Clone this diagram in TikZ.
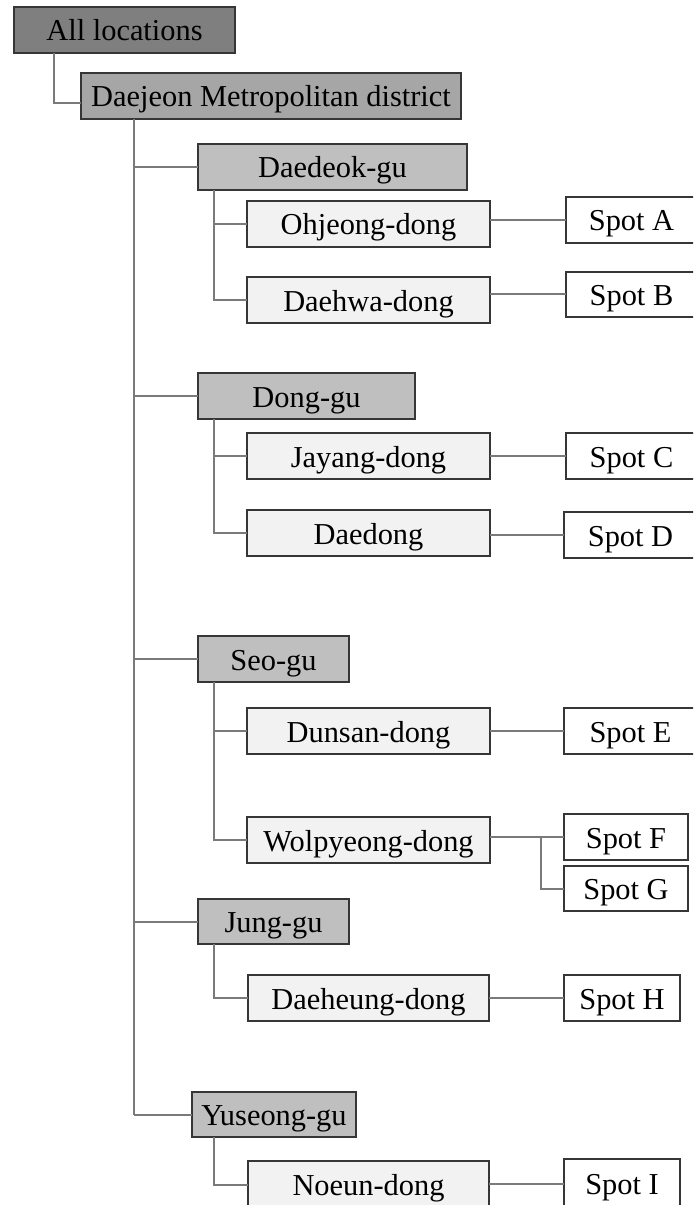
\documentclass[tikz,border=0pt]{standalone}
\usepackage{fontspec}
\setmainfont{Liberation Serif}
\definecolor{rootfill}{HTML}{7F7F7F}
\definecolor{cityfill}{HTML}{A6A6A6}
\definecolor{gufill}{HTML}{BFBFBF}
\definecolor{dongfill}{HTML}{F2F2F2}
\definecolor{edge}{HTML}{363636}
\definecolor{wire}{HTML}{7A7A7A}
% box from its corners (x1,y1)-(x2,y2), y measured downwards
\newcommand\tbox[7]{\node[#1, minimum width={(#5-#3)*0.75pt}, minimum height={(#6-#4)*0.75pt}] (#2) at ({(#3+#5)/2},{-(#4+#6)/2}) {#7};}
\begin{document}
\begin{tikzpicture}[x=0.75pt,y=0.75pt,
  every node/.style={inner sep=0pt, outer sep=0pt, draw=edge, line width=1pt,
    font=\fontsize{22.8}{26}\selectfont, text height=16.5pt, text depth=0pt},
  rootbox/.style={fill=rootfill},
  citybox/.style={fill=cityfill},
  gubox/.style={fill=gufill},
  dongbox/.style={fill=dongfill},
  spotbox/.style={fill=white},
  link/.style={draw=wire, line width=1.5pt}]
\useasboundingbox (0,0) rectangle (693,-1205);
\clip (0,0) rectangle (693,-1205);
\fill[white] (0,0) rectangle (693,-1205);

% connector stems
\coordinate (rootstem) at (54,0);
\coordinate (trunk) at (134,0);
\coordinate (stem) at (214,0);
\coordinate (fork) at (541,0);

% levels
\tbox{rootbox}{all}{14}{7}{235}{53}{All locations}
\tbox{citybox}{dj}{81}{73}{461}{119}{Daejeon Metropolitan district}

\tbox{gubox}{gu1}{198}{144}{467}{190}{Daedeok-gu}
\tbox{dongbox}{d1}{247}{201}{490}{247}{Ohjeong-dong}
\tbox{dongbox}{d2}{247}{277}{490}{323}{Daehwa-dong}
\tbox{spotbox}{sA}{566}{197}{697}{243}{Spot A}
\tbox{spotbox}{sB}{566}{272}{697}{317}{Spot B}

\tbox{gubox}{gu2}{198}{373}{415}{419}{Dong-gu}
\tbox{dongbox}{d3}{247}{433}{490}{479}{Jayang-dong}
\tbox{dongbox}{d4}{247}{510}{490}{556}{Daedong}
\tbox{spotbox}{sC}{566}{433}{697}{479}{Spot C}
\tbox{spotbox}{sD}{564}{512}{697}{558}{Spot D}

\tbox{gubox}{gu3}{198}{636}{349}{682}{Seo-gu}
\tbox{dongbox}{d5}{247}{708}{490}{754}{Dunsan-dong}
\tbox{dongbox}{d6}{247}{817}{490}{863}{Wolpyeong-dong}
\tbox{spotbox}{sE}{564}{708}{697}{754}{Spot E}
\tbox{spotbox}{sF}{564}{814}{688}{860}{Spot F}
\tbox{spotbox}{sG}{564}{866}{688}{911}{Spot G}

\tbox{gubox}{gu4}{198}{899}{349}{944}{Jung-gu}
\tbox{dongbox}{d7}{248}{975}{489}{1021}{Daeheung-dong}
\tbox{spotbox}{sH}{564}{975}{680}{1021}{Spot H}

\tbox{gubox}{gu5}{192}{1092}{356}{1137}{Yuseong-gu}
\tbox{dongbox}{d8}{248}{1161}{489}{1208}{Noeun-dong}
\tbox{spotbox}{sI}{564}{1159}{680}{1208}{Spot I}

% root to city
\draw[link] (all.south -| rootstem) |- ([yshift=-5pt]dj.west);
% city trunk and its districts
\draw[link] (dj.south -| trunk) -- (trunk |- gu5.west);
\foreach \g in {gu1,gu2,gu3,gu4,gu5}
  \draw[link] (trunk |- \g.west) -- (\g.west);

% districts to neighbourhoods
\draw[link] (gu1.south -| stem) |- (d1.west);
\draw[link] (gu1.south -| stem) |- (d2.west);
\draw[link] (gu2.south -| stem) |- (d3.west);
\draw[link] (gu2.south -| stem) |- (d4.west);
\draw[link] (gu3.south -| stem) |- (d5.west);
\draw[link] (gu3.south -| stem) |- (d6.west);
\draw[link] (gu4.south -| stem) |- (d7.west);
\draw[link] (gu5.south -| stem) |- (d8.west);

% neighbourhoods to spots
\draw[link] (d1.east |- sA.west) -- (sA.west);
\draw[link] (d2.east |- sB.west) -- (sB.west);
\draw[link] (d3.east |- sC.west) -- (sC.west);
\draw[link] (d4.east |- sD.west) -- (sD.west);
\draw[link] (d5.east |- sE.west) -- (sE.west);
\draw[link] (d6.east |- sF.west) -- (sF.west);
\draw[link] (fork |- sF.west) |- (sG.west);
\draw[link] (d7.east |- sH.west) -- (sH.west);
\draw[link] (d8.east |- sI.west) -- (sI.west);
\end{tikzpicture}
\end{document}
